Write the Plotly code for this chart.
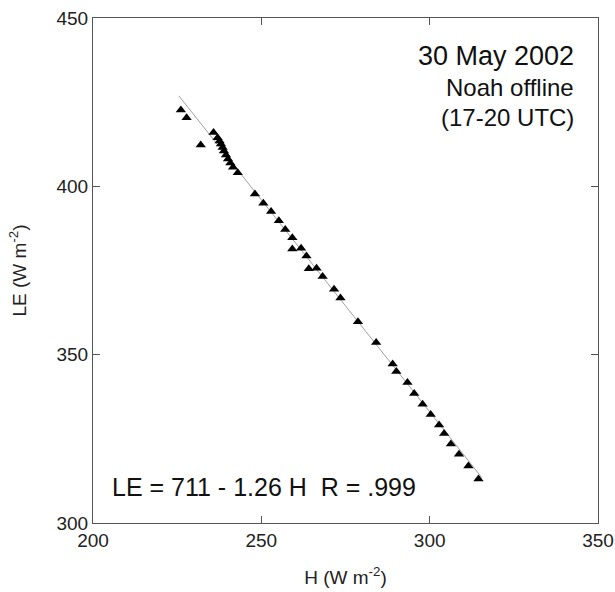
import plotly.graph_objects as go

# Sensible heat flux H (W m-2) and latent heat flux LE (W m-2)
H = [226.1, 227.8, 232.0, 235.8, 237.0, 237.6, 238.0, 238.5, 238.9, 239.5, 240.1,
     240.8, 241.6, 243.0, 248.1, 250.6, 252.9, 255.2, 257.1, 259.2, 259.2, 261.8,
     263.4, 264.1, 266.4, 268.2, 271.6, 273.5, 278.7, 284.1, 289.0, 290.1, 293.4,
     295.4, 297.9, 300.3, 302.8, 304.3, 306.3, 308.7, 311.5, 314.5]
LE = [422.7, 420.4, 412.3, 416.0, 414.4, 413.5, 412.6, 411.5, 410.5, 409.3, 408.1,
      406.9, 405.7, 404.0, 397.7, 395.0, 392.5, 389.8, 387.2, 384.7, 381.4, 381.6,
      379.3, 375.5, 375.7, 373.2, 369.4, 366.8, 359.8, 353.6, 347.2, 345.0, 341.7,
      338.5, 335.3, 332.2, 329.1, 326.6, 323.5, 320.4, 316.9, 313.1]

# Regression fit
intercept = 711
slope = -1.26
fit_range = [225.5, 315.5]
fit_le = [intercept + slope * h for h in fit_range]

x_ticks = [200, 250, 300, 350]
y_ticks = [300, 350, 400, 450]

font_family = "Liberation Sans, Arial, sans-serif"

fig = go.Figure()
fig.add_trace(go.Scatter(x=fit_range, y=fit_le, mode="lines",
                         line=dict(color="#a0a0a0", width=1), showlegend=False,
                         hoverinfo="skip"))
fig.add_trace(go.Scatter(x=H, y=LE, mode="markers",
                         marker=dict(symbol="triangle-up", size=9, color="black",
                                     line=dict(width=0)),
                         showlegend=False))

axis_common = dict(showgrid=False, zeroline=False, showline=True, linecolor="#555555",
                   linewidth=1, mirror="ticks", ticks="inside", ticklen=7,
                   tickcolor="#555555", tickwidth=1, automargin=False,
                   tickfont=dict(size=19, color="#222222", family=font_family))

fig.update_xaxes(range=[200, 350], tickvals=x_ticks, ticktext=[str(v) for v in x_ticks],
                 title=dict(text="H (W m<sup>-2</sup>)", font=dict(size=19, color="#222222", family=font_family),
                            standoff=20),
                 **axis_common)
fig.update_yaxes(range=[300, 450], tickvals=y_ticks, ticktext=[str(v) for v in y_ticks],
                 title=dict(text="LE (W m<sup>-2</sup>)", font=dict(size=19, color="#222222", family=font_family),
                            standoff=24),
                 **axis_common)

fig.add_annotation(xref="paper", yref="paper", x=0.956, y=0.9245, xanchor="right", yanchor="middle",
                   text="30 May 2002", showarrow=False,
                   font=dict(size=27, color="#111111", family=font_family))
fig.add_annotation(xref="paper", yref="paper", x=0.956, y=0.863, xanchor="right", yanchor="middle",
                   text="Noah offline", showarrow=False,
                   font=dict(size=24, color="#111111", family=font_family))
fig.add_annotation(xref="paper", yref="paper", x=0.956, y=0.802, xanchor="right", yanchor="middle",
                   text="(17-20 UTC)", showarrow=False,
                   font=dict(size=24, color="#111111", family=font_family))
fig.add_annotation(xref="paper", yref="paper", x=0.033, y=0.071, xanchor="left", yanchor="middle",
                   text="LE = 711 - 1.26 H&nbsp;&nbsp;R = .999", showarrow=False,
                   font=dict(size=25, color="#111111", family=font_family))

fig.update_layout(width=615, height=592, margin=dict(l=93, r=17, t=18, b=69),
                  plot_bgcolor="white", paper_bgcolor="white",
                  font=dict(family=font_family))

fig.write_html("out.html")
